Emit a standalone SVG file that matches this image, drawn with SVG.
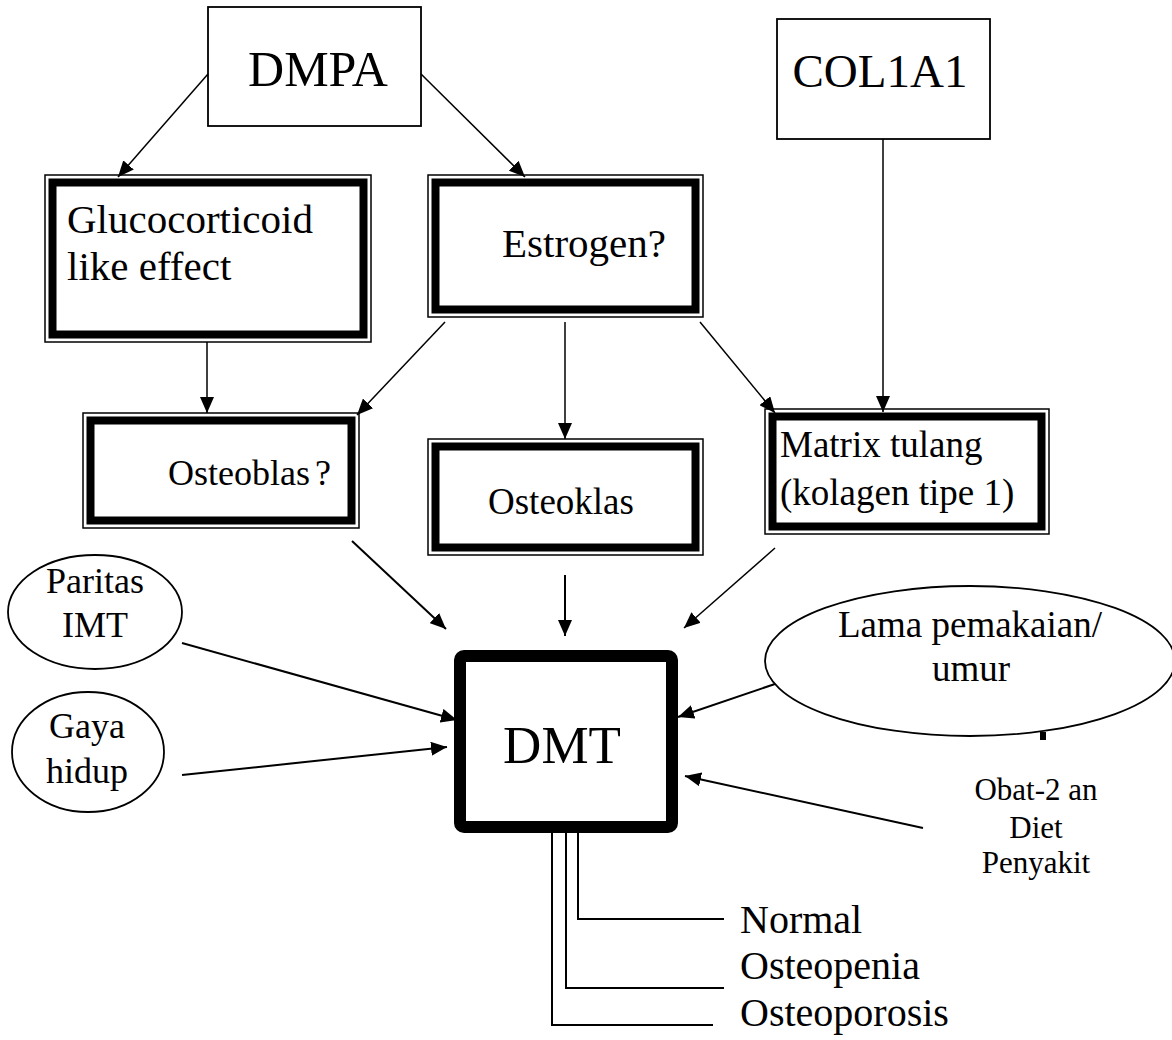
<svg xmlns="http://www.w3.org/2000/svg" width="1172" height="1040" viewBox="0 0 1172 1040">
<style>
text{font-family:"Liberation Serif","Times New Roman",serif;fill:#000}
.box{fill:#fff;stroke:#000;stroke-width:1.8}
.outer{fill:#fff;stroke:#000;stroke-width:1.5}
.inner{fill:none;stroke:#000;stroke-width:8}
.ell{fill:#fff;stroke:#000;stroke-width:1.8}
.c{fill:none;stroke:#000;stroke-width:1.5}
.c2{fill:none;stroke:#000;stroke-width:2}
.a{marker-end:url(#ah)}
</style>
<defs>
<marker id="ah" markerUnits="userSpaceOnUse" markerWidth="17" markerHeight="14" refX="16" refY="7" orient="auto">
<path d="M0,0 L16,7 L0,14 z" fill="#000"/>
</marker>
</defs>
<rect width="1172" height="1040" fill="#fff"/>

<g id="dmpa">
<rect class="box" x="208" y="7" width="213" height="119"/>
<text x="318" y="86" font-size="50" text-anchor="middle">DMPA</text>
</g>
<g id="col1a1">
<rect class="box" x="777" y="19" width="213" height="120"/>
<text x="880" y="87" font-size="47" text-anchor="middle">COL1A1</text>
</g>

<g id="glucocorticoid">
<rect class="outer" x="45" y="175" width="326" height="167"/>
<rect class="inner" x="52.5" y="182.5" width="311" height="152"/>
<text x="67" y="233" font-size="41">Glucocorticoid</text>
<text x="67" y="280" font-size="41">like effect</text>
</g>
<g id="estrogen">
<rect class="outer" x="428" y="175" width="275" height="142"/>
<rect class="inner" x="435.5" y="182.5" width="260" height="127"/>
<text x="502" y="257" font-size="41">Estrogen?</text>
</g>
<g id="osteoblas">
<rect class="outer" x="83" y="413" width="276" height="115"/>
<rect class="inner" x="90.5" y="420.5" width="261" height="100"/>
<text x="168" y="485" font-size="36">Osteoblas<tspan dx="5">?</tspan></text>
</g>
<g id="osteoklas">
<rect class="outer" x="428" y="439" width="275" height="116"/>
<rect class="inner" x="435.5" y="446.5" width="260" height="101"/>
<text x="488" y="514" font-size="37">Osteoklas</text>
</g>
<g id="matrix">
<rect class="outer" x="765" y="409" width="284" height="125"/>
<rect class="inner" x="772.5" y="416.5" width="269" height="110"/>
<text x="780" y="457" font-size="37">Matrix tulang</text>
<text x="780" y="505" font-size="37">(kolagen tipe 1)</text>
</g>

<g id="paritas">
<ellipse class="ell" cx="95" cy="612" rx="87" ry="57"/>
<text x="95" y="593" font-size="36" text-anchor="middle">Paritas</text>
<text x="95" y="637" font-size="36" text-anchor="middle">IMT</text>
</g>
<g id="gaya">
<ellipse class="ell" cx="88" cy="752" rx="76" ry="60"/>
<text x="87" y="738" font-size="36" text-anchor="middle">Gaya</text>
<text x="87" y="783" font-size="36" text-anchor="middle">hidup</text>
</g>
<g id="lama">
<ellipse class="ell" cx="970" cy="661" rx="205" ry="75"/>
<text x="970" y="637" font-size="37" text-anchor="middle">Lama pemakaian/</text>
<text x="971" y="681" font-size="37" text-anchor="middle">umur</text>
<rect x="1040" y="732" width="6" height="8" fill="#000"/>
</g>
<g id="obat">
<text x="1036" y="800" font-size="31" text-anchor="middle">Obat-2 an</text>
<text x="1036" y="838" font-size="31" text-anchor="middle">Diet</text>
<text x="1036" y="873" font-size="31" text-anchor="middle">Penyakit</text>
</g>

<g id="dmt">
<rect x="460" y="656" width="212" height="171" rx="4" fill="#fff" stroke="#000" stroke-width="12"/>
<text x="562" y="763" font-size="53" text-anchor="middle">DMT</text>
</g>

<g id="results">
<text x="740" y="933" font-size="40">Normal</text>
<text x="740" y="979" font-size="40">Osteopenia</text>
<text x="740" y="1026" font-size="40">Osteoporosis</text>
</g>

<g id="connectors">
<line class="c a" x1="208" y1="74" x2="118" y2="177"/>
<line class="c a" x1="421" y1="74" x2="525" y2="177"/>
<line class="c a" x1="883" y1="139" x2="883" y2="412"/>
<line class="c a" x1="207" y1="342" x2="207" y2="413"/>
<line class="c a" x1="445" y1="322" x2="357" y2="415"/>
<line class="c a" x1="565" y1="322" x2="565" y2="439"/>
<line class="c a" x1="700" y1="322" x2="775" y2="413"/>
<line class="c2 a" x1="352" y1="541" x2="446" y2="629"/>
<line class="c2 a" x1="565" y1="575" x2="565" y2="636"/>
<line class="c a" x1="775" y1="548" x2="684" y2="628"/>
<line class="c2 a" x1="182" y1="643" x2="457" y2="720"/>
<line class="c2 a" x1="182" y1="775" x2="447" y2="747"/>
<line class="c2 a" x1="775" y1="684" x2="678" y2="717"/>
<line class="c2 a" x1="923" y1="828" x2="685" y2="776"/>
<polyline class="c2" points="578,833 578,919 724,919"/>
<polyline class="c2" points="566,833 566,988 724,988"/>
<polyline class="c2" points="552,833 552,1025 713,1025"/>
</g>
</svg>
